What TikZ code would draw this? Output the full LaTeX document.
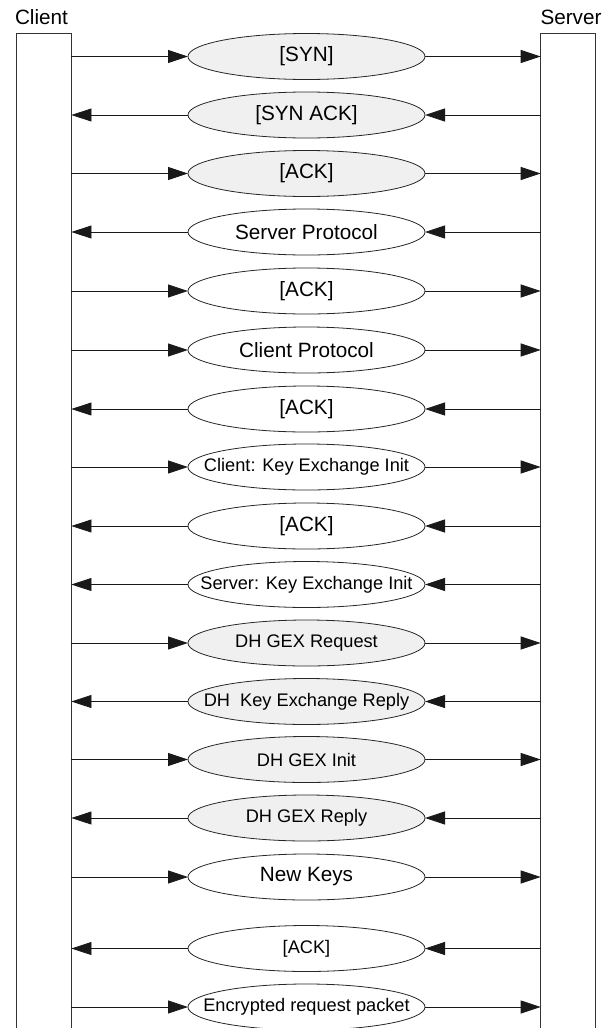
\documentclass[tikz,border=0pt]{standalone}
\usepackage{fontspec}
\setmainfont{Liberation Sans}
\usetikzlibrary{shapes.geometric,arrows.meta}
\newcommand\msgright[1]{%
  \draw[arr] (client.east |- #1.west) -- (#1.west);
  \draw[arr] (#1.east) -- (server.west |- #1.east);}
\newcommand\msgleft[1]{%
  \draw[arr] (server.west |- #1.east) -- (#1.east);
  \draw[arr] (#1.west) -- (client.east |- #1.west);}
\newcommand\zw[1]{\makebox[0pt]{#1}}
\begin{document}
\begin{tikzpicture}[x=1pt,y=1pt,
  life/.style={draw=black!80, line width=0.8pt, minimum width=55pt, minimum height=1010pt, anchor=north, inner sep=0pt, outer sep=0pt},
  msg/.style={ellipse, draw=black!85, line width=0.8pt, minimum width=237pt, minimum height=46pt, inner sep=0pt, outer sep=0pt},
  gfill/.style={fill=gray!12},
  wfill/.style={fill=white},
  bigf/.style={font=\fontsize{20.7}{24}\selectfont},
  smallf/.style={font=\fontsize{18.2}{22}\selectfont},
  arr/.style={draw=black!90, line width=0.8pt, -{Triangle[length=20pt,width=13pt]}}]
\useasboundingbox (0,0) rectangle (607,-1028);
\node[life] (client) at (43.9,-33) {};
\node[life, minimum width=54.3pt] (server) at (567.85,-33) {};
\node[bigf] (clab) at (41.5,-17.5) {Client};
\node[bigf] (slab) at (571,-17.5) {Server};

\node[msg,gfill,bigf] (m0) at (306.5,-56.5) {\zw{[SYN]}};
\node[msg,gfill,bigf] (m1) at (306.5,-115) {\zw{[SYN ACK]}};
\node[msg,gfill,bigf] (m2) at (306.5,-173.5) {\zw{[ACK]}};
\node[msg,wfill,bigf] (m3) at (306.5,-232) {\zw{Server Protocol}};
\node[msg,wfill,bigf] (m4) at (306.5,-291) {\zw{[ACK]}};
\node[msg,wfill,bigf] (m5) at (306.5,-350) {\zw{Client Protocol}};
\node[msg,wfill,bigf] (m6) at (306.5,-409) {\zw{[ACK]}};
\node[msg,wfill,smallf] (m7) at (306.5,-467) {\zw{Client: Key Exchange Init}};
\node[msg,wfill,bigf] (m8) at (306.5,-526) {\zw{[ACK]}};
\node[msg,wfill,smallf] (m9) at (306.5,-584.5) {\zw{Server: Key Exchange Init}};
\node[msg,gfill,smallf] (m10) at (306.5,-643) {\zw{DH GEX Request}};
\node[msg,gfill,smallf] (m11) at (306.5,-701.5) {\zw{DH~ Key Exchange Reply}};
\node[msg,gfill,smallf] (m12) at (306.5,-759.5) {\zw{DH GEX Init}};
\node[msg,gfill,smallf] (m13) at (306.5,-818) {\zw{DH GEX Reply}};
\node[msg,wfill,bigf] (m14) at (306.5,-877) {\zw{New Keys}};
\node[msg,wfill,smallf] (m15) at (306.5,-948.5) {\zw{[ACK]}};
\node[msg,wfill,smallf] (m16) at (306.5,-1007) {\zw{Encrypted request packet}};

\msgright{m0}
\msgleft{m1}
\msgright{m2}
\msgleft{m3}
\msgright{m4}
\msgright{m5}
\msgleft{m6}
\msgright{m7}
\msgleft{m8}
\msgleft{m9}
\msgright{m10}
\msgleft{m11}
\msgright{m12}
\msgleft{m13}
\msgright{m14}
\msgleft{m15}
\msgright{m16}
\end{tikzpicture}
\end{document}
